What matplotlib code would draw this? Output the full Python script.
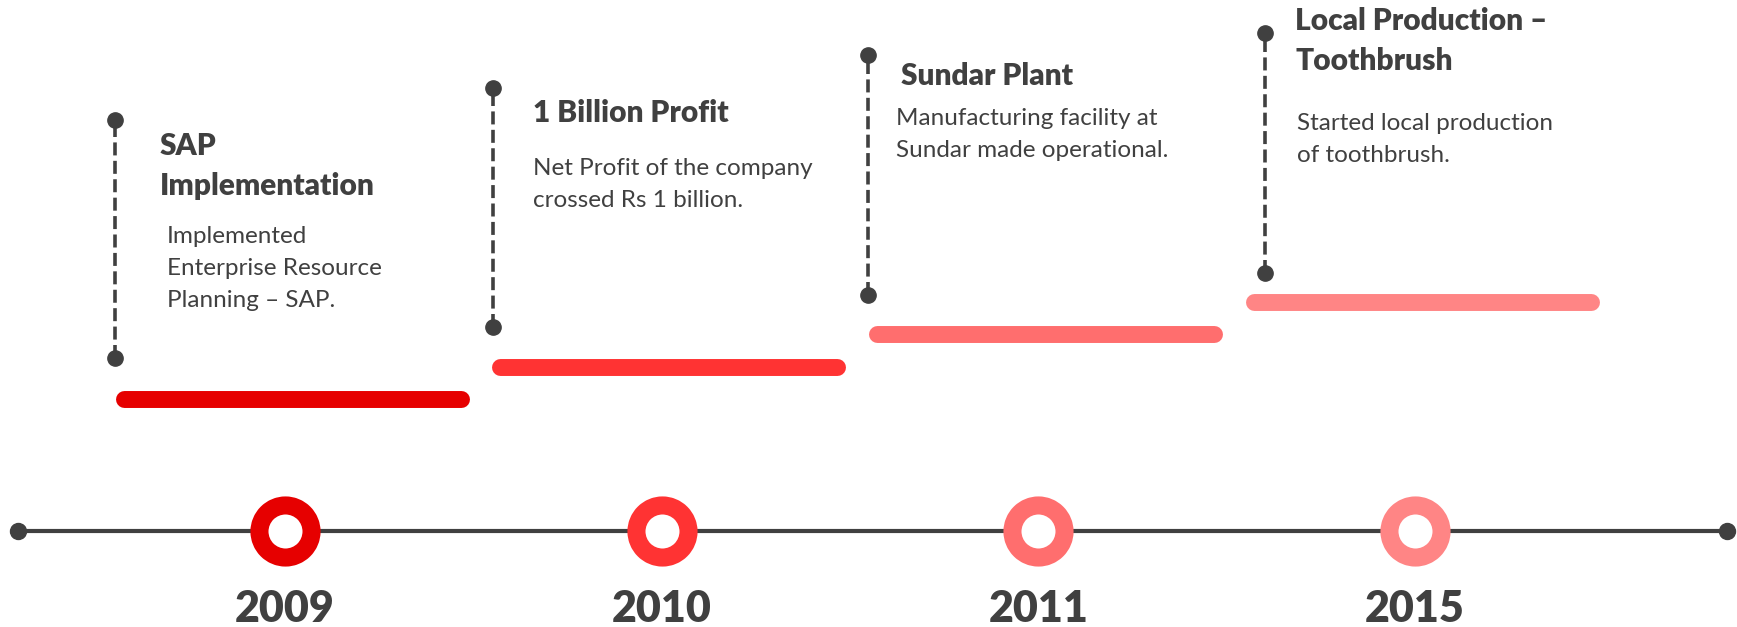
import matplotlib.pyplot as plt

# Timeline data
years = ["2009", "2010", "2011", "2015"]
titles = ["SAP\nImplementation", "1 Billion Profit", "Sundar Plant",
          "Local Production \u2013\nToothbrush"]
descriptions = [
    "Implemented\nEnterprise Resource\nPlanning \u2013 SAP.",
    "Net Profit of the company\ncrossed Rs 1 billion.",
    "Manufacturing facility at\nSundar made operational.",
    "Started local production\nof toothbrush.",
]
colors = ["#E60000", "#FF3333", "#FF6E6E", "#FF8585"]

# Layout (pixel units; x relative to each year marker, y up from timeline)
W, H = 1737, 627
X0, STEP = 285, 376.7          # first marker and spacing in px
LINE_Y = 531                   # timeline row from top
bar_base, bar_rise = 132, 32.3
title_dx = [-125, -129, -137, -120]
title_y = [376, 409, 446, 501]
body_dx = [-118, -129, -142, -118]
body_y = [288, 356, 406, 401]
conn_dx = [-170, -169, -170, -150]
conn_top = [411, 443, 476, 498]
conn_bot = [173, 204, 236, 258]

TEXT = "#404040"
plt.rcParams["font.family"] = ["Lato", "DejaVu Sans"]

fig = plt.figure(figsize=(W / 100, H / 100), dpi=100)
ax = fig.add_axes([0, 0, 1, 1])
ax.set_xlim(-X0 / STEP, (W - X0) / STEP)
ax.set_ylim(LINE_Y - H, LINE_Y)
ax.axis("off")

px = 1 / STEP  # one pixel in x units

# main timeline
ax.plot([-(X0 - 18) * px, (1727 - X0) * px], [0, 0], color=TEXT, lw=3, zorder=1)
ax.plot([-(X0 - 18) * px, (1727 - X0) * px], [0, 0], "o", color=TEXT, ms=11.5, zorder=2)

for i, year in enumerate(years):
    c = colors[i]
    # year ring
    ax.plot(i, 0, "o", ms=37.5, mfc="white", mec=c, mew=13, zorder=3)
    ax.text(i, -91, year, ha="center", va="baseline", fontsize=31,
            fontweight="heavy", color=TEXT)

    # step bar
    level = bar_base + bar_rise * i
    ax.plot([i - 161.5 * px, i + 175.5 * px], [level, level], color=c,
            lw=12.2, solid_capstyle="round", zorder=2)

    # dashed connector
    cx = i + conn_dx[i] * px
    ax.plot([cx, cx], [conn_bot[i], conn_top[i]], color=TEXT, lw=2.6,
            dashes=(3.6, 1.5), zorder=2)
    ax.plot([cx, cx], [conn_bot[i], conn_top[i]], "o", color=TEXT, ms=11, zorder=3)

    # title lines
    for k, line in enumerate(titles[i].split("\n")):
        ax.text(i + title_dx[i] * px, title_y[i] - 40 * k, line, ha="left",
                va="baseline", fontsize=21.5, fontweight="heavy", color=TEXT)
    # description lines
    for k, line in enumerate(descriptions[i].split("\n")):
        ax.text(i + body_dx[i] * px, body_y[i] - 32 * k, line, ha="left",
                va="baseline", fontsize=17.5, color=TEXT)

fig.savefig("out.png", dpi=100, facecolor="white")
